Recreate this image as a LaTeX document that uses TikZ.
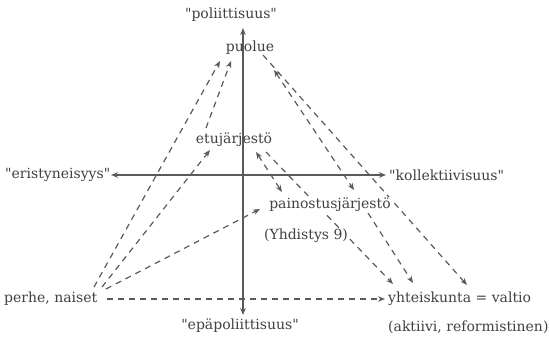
\documentclass[tikz,border=0pt]{standalone}
\usepackage{fontspec}
\setmainfont{DejaVu Serif}
\usetikzlibrary{arrows.meta}
\definecolor{txtgray}{RGB}{65,65,65}
\definecolor{lngray}{RGB}{90,90,90}
\pgfdeclarelayer{bg}
\pgfsetlayers{bg,main}
\newcommand{\qq}{\textquotedbl}
\begin{document}
\begin{tikzpicture}[x=1pt,y=-1pt,
  lbl/.style={text=txtgray, font=\fontsize{14}{16}\selectfont, inner sep=1pt},
  axisline/.style={draw=lngray, line width=1.1pt, {Stealth[length=7pt,width=5.5pt]}-{Stealth[length=7pt,width=5.5pt]}},
  dsh/.style={draw=lngray, line width=1.2pt, dash pattern=on 6pt off 5pt},
  onetip/.style={dsh, -{Stealth[length=7pt,width=5.5pt]}},
  twotip/.style={dsh, {Stealth[length=7pt,width=5.5pt]}-{Stealth[length=7pt,width=5.5pt]}}
]
\useasboundingbox (0,0) rectangle (549,338);

% labels
\node[lbl] (pol) at (231,15) {\qq poliittisuus\qq};
\node[lbl] (epa) at (240,326) {\qq epäpoliittisuus\qq};
\node[lbl, anchor=west] (eri) at (4,175) {\qq eristyneisyys\qq};
\node[lbl, anchor=west] (kol) at (388,175) {\qq kollektiivisuus\qq};
\node[lbl] (puolue) at (250,48) {puolue};
\node[lbl] (etu) at (234,140) {etujärjestö};
\node[lbl, fill=white] (pain) at (330,205) {painostusjärjestö};
\node[lbl, fill=white] (yhd) at (306,236) {(Yhdistys 9)};
\node[lbl, anchor=west] (perhe) at (3,299) {perhe, naiset};
\node[lbl, anchor=west] (yht) at (387,299) {yhteiskunta = valtio};
\node[lbl, anchor=west] (akt) at (387,327) {(aktiivi, reformistinen)};

% axes
\coordinate (vt) at (243,28);
\coordinate (vb) at (243,315);
\coordinate (hl) at (111,175);
\coordinate (hr) at (386,175);

% connector ends
\coordinate (pA) at (94,287);
\coordinate (pB) at (102,287);
\coordinate (pC) at (106,289);
\coordinate (pD) at (107,299);
\coordinate (puL) at (220,61);
\coordinate (puM) at (231,61);
\coordinate (puR) at (263,55);
\coordinate (puS) at (274,70);
\coordinate (etL) at (210,150);
\coordinate (etT) at (206,128);
\coordinate (etR1) at (256,152);
\coordinate (etR2) at (266,152);
\coordinate (paL) at (260,209);
\coordinate (paT1) at (282,192);
\coordinate (paT2) at (354,190);
\coordinate (paB) at (368,213);
\coordinate (yA) at (385,299);
\coordinate (yB) at (393,284);
\coordinate (yC) at (413,283);
\coordinate (yD) at (467,285);

\begin{pgfonlayer}{bg}
\draw[axisline] (vb) -- (vt);
\draw[axisline] (hl) -- (hr);
\draw[onetip] (pA) -- (puL);
\draw[onetip] (pB) -- (etL);
\draw[onetip] (pC) -- (paL);
\draw[onetip] (pD) -- (yA);
\draw[onetip] (etT) -- (puM);
\draw[twotip] (etR1) -- (paT1);
\draw[onetip] (etR2) -- (yB);
\draw[onetip] (puR) -- (yD);
\draw[twotip] (puS) -- (paT2);
\draw[onetip] (paB) -- (yC);
\end{pgfonlayer}
\end{tikzpicture}
\end{document}
